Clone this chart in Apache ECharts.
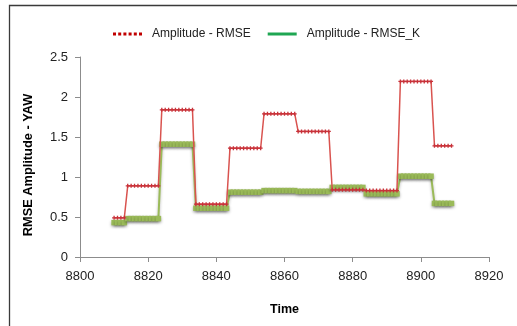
<!DOCTYPE html>
<html><head><meta charset="utf-8">
<script src="https://cdn.jsdelivr.net/npm/echarts@6/dist/echarts.min.js"></script>
<style>html,body{margin:0;padding:0;background:#fff}#c{width:517px;height:326px}</style>
</head><body><div id="c"></div>
<script>
const times = [8810,8811,8812,8813,8814,8815,8816,8817,8818,8819,8820,8821,8822,8823,8824,8825,8826,8827,8828,8829,8830,8831,8832,8833,8834,8835,8836,8837,8838,8839,8840,8841,8842,8843,8844,8845,8846,8847,8848,8849,8850,8851,8852,8853,8854,8855,8856,8857,8858,8859,8860,8861,8862,8863,8864,8865,8866,8867,8868,8869,8870,8871,8872,8873,8874,8875,8876,8877,8878,8879,8880,8881,8882,8883,8884,8885,8886,8887,8888,8889,8890,8891,8892,8893,8894,8895,8896,8897,8898,8899,8900,8901,8902,8903,8904,8905,8906,8907,8908,8909];
const rmse = [0.49,0.49,0.49,0.49,
 0.89,0.89,0.89,0.89,0.89,0.89,0.89,0.89,0.89,0.89,
 1.84,1.84,1.84,1.84,1.84,1.84,1.84,1.84,1.84,1.84,
 0.66,0.66,0.66,0.66,0.66,0.66,0.66,0.66,0.66,0.66,
 1.36,1.36,1.36,1.36,1.36,1.36,1.36,1.36,1.36,1.36,
 1.79,1.79,1.79,1.79,1.79,1.79,1.79,1.79,1.79,1.79,
 1.57,1.57,1.57,1.57,1.57,1.57,1.57,1.57,1.57,1.57,
 0.84,0.84,0.84,0.84,0.84,0.84,0.84,0.84,0.84,0.84,
 0.83,0.83,0.83,0.83,0.83,0.83,0.83,0.83,0.83,0.83,
 2.195,2.195,2.195,2.195,2.195,2.195,2.195,2.195,2.195,2.195,
 1.39,1.39,1.39,1.39,1.39,1.39];
const rmseK = [0.43,0.43,0.43,0.43,
 0.48,0.48,0.48,0.48,0.48,0.48,0.48,0.48,0.48,0.48,
 1.41,1.41,1.41,1.41,1.41,1.41,1.41,1.41,1.41,1.41,
 0.61,0.61,0.61,0.61,0.61,0.61,0.61,0.61,0.61,0.61,
 0.81,0.81,0.81,0.81,0.81,0.81,0.81,0.81,0.81,0.81,
 0.83,0.83,0.83,0.83,0.83,0.83,0.83,0.83,0.83,0.83,
 0.82,0.82,0.82,0.82,0.82,0.82,0.82,0.82,0.82,0.82,
 0.87,0.87,0.87,0.87,0.87,0.87,0.87,0.87,0.87,0.87,
 0.79,0.79,0.79,0.79,0.79,0.79,0.79,0.79,0.79,0.79,
 1.01,1.01,1.01,1.01,1.01,1.01,1.01,1.01,1.01,1.01,
 0.67,0.67,0.67,0.67,0.67,0.67];
const seriesNames = ['Amplitude - RMSE', 'Amplitude - RMSE_K'];
const xTitle = 'Time';
const yTitle = 'RMSE Amplitude - YAW';

const pair = (ys) => times.map((t, i) => [t, ys[i]]);
const font = 'Liberation Sans';
const chart = echarts.init(document.getElementById('c'), null, {renderer: 'canvas'});
const dotted = 'path://M0,0h3v3h-3z M5.2,0h3v3h-3z M10.4,0h3v3h-3z M15.6,0h3v3h-3z M20.8,0h3v3h-3z M26,0h3v3h-3z';
const plus = 'path://M1,0h1v1h1v1h-1v1h-1v-1h-1v-1h1z';
chart.setOption({
  animation: false,
  graphic: [{type: 'rect', shape: {x: 9.5, y: 5.5, width: 700, height: 500},
    style: {fill: 'none', stroke: '#3a3a3a', lineWidth: 1.3}, silent: true}],
  legend: {
    left: 108, top: 23, itemWidth: 29, itemHeight: 3, itemGap: 17,
    textStyle: {fontFamily: font, fontSize: 12, color: '#222', padding: [0, 0, 0, 5]},
    data: [
      {name: seriesNames[0], icon: dotted, itemStyle: {color: '#c00000'}},
      {name: seriesNames[1], icon: 'rect', itemStyle: {color: '#1fa652'}}
    ]
  },
  grid: {left: 80, right: 28, top: 57, bottom: 69},
  xAxis: {
    type: 'value', min: 8800, max: 8920, interval: 20,
    name: xTitle, nameLocation: 'middle', nameGap: 46,
    nameTextStyle: {fontFamily: font, fontWeight: 'bold', fontSize: 12.5, color: '#000'},
    axisLine: {lineStyle: {color: '#8c8c8c', width: 1}},
    axisTick: {length: 5, lineStyle: {color: '#8c8c8c'}},
    axisLabel: {fontFamily: font, fontSize: 13, color: '#222', margin: 13, formatter: (v) => String(v)},
    splitLine: {show: false}
  },
  yAxis: {
    type: 'value', min: 0, max: 2.5, interval: 0.5,
    name: yTitle, nameLocation: 'middle', nameGap: 45, nameRotate: 90,
    nameTextStyle: {fontFamily: font, fontWeight: 'bold', fontSize: 12.8, color: '#000', padding: [0, 0, 0, -16]},
    axisLine: {show: true, lineStyle: {color: '#8c8c8c', width: 1}},
    axisTick: {show: true, length: 5, lineStyle: {color: '#8c8c8c'}},
    axisLabel: {fontFamily: font, fontSize: 13, color: '#222', margin: 12},
    splitLine: {show: false}
  },
  series: [
    {
      name: seriesNames[1], type: 'line', data: pair(rmseK),
      symbol: 'rect', symbolSize: 5.5, showSymbol: true,
      itemStyle: {color: '#9bbb59', shadowColor: 'rgba(0,0,0,0.35)', shadowBlur: 3, shadowOffsetY: 1.5},
      lineStyle: {color: '#9bbb59', width: 2, shadowColor: 'rgba(0,0,0,0.3)', shadowBlur: 3, shadowOffsetY: 1.5},
      z: 2
    },
    {
      name: seriesNames[0], type: 'line', data: pair(rmse),
      symbol: plus, symbolSize: 4, showSymbol: true,
      itemStyle: {color: '#c8323a'},
      lineStyle: {color: '#d9534f', width: 1.5},
      z: 3
    }
  ]
});
</script></body></html>
